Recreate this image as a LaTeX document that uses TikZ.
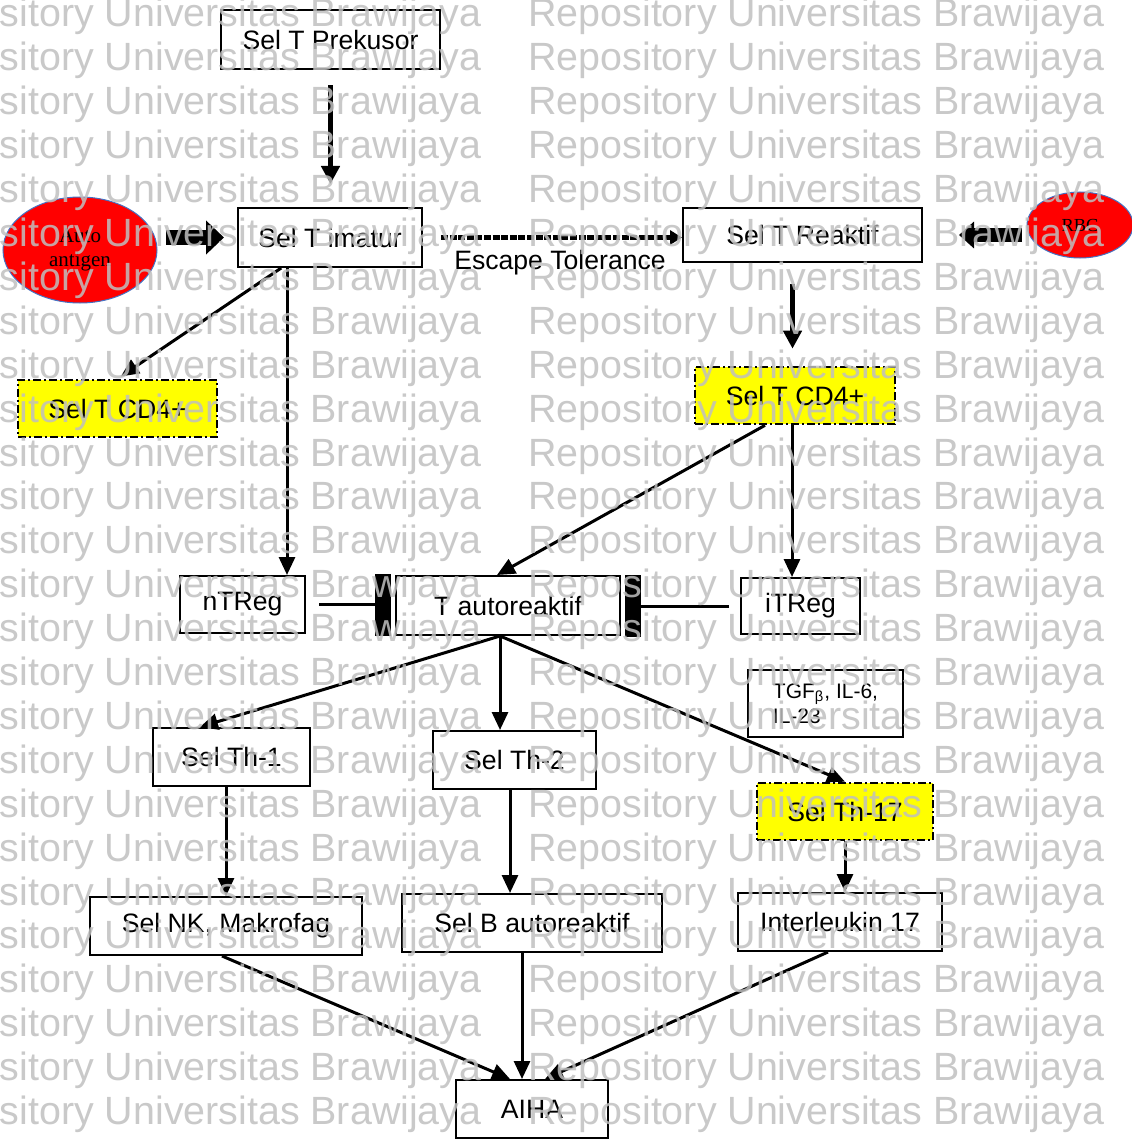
\documentclass[tikz,border=0pt]{standalone}
\usepackage{fontspec}
\setmainfont{Liberation Sans}
\newfontfamily\timesfont{Liberation Serif}
\usetikzlibrary{arrows.meta,calc,shapes.geometric}
\definecolor{CellClr}{rgb}{1,1,0}
\definecolor{AntigenClr}{rgb}{1,0,0}
\definecolor{RimClr}{rgb}{0.267,0.447,0.769}
\definecolor{MarkClr}{rgb}{0.75,0.75,0.75}

\begin{document}
\begin{tikzpicture}[x=0.5pt,y=-0.5pt,
  box/.style={draw,line width=1pt,inner sep=0pt,font=\fontsize{13.3}{15}\selectfont},
  cellbox/.style={box,fill=CellClr,line width=1.3pt,dash pattern=on 4pt off 1.5pt on 1pt off 1.5pt},
  antigen/.style={ellipse,draw=RimClr,fill=AntigenClr,line width=0.5pt,inner sep=0pt,align=center},
  arr/.style={line width=1.5pt,-{Triangle[length=9pt,width=8pt]}},
  thickarr/.style={line width=2.5pt,-{Triangle[length=9pt,width=9pt]}},
  fatarrow/.style={line width=7pt,-{Triangle[length=9pt,width=16.5pt]}},
  blocker/.style={line width=1.5pt,-{Rectangle[length=8pt,width=31pt]}},
  wmark/.style={text=MarkClr,text opacity=0.85,inner sep=0pt,font=\fontsize{19.7}{20}\selectfont}]
\useasboundingbox (0,0) rectangle (1131,1139);

\node[box,minimum width=109.5pt,minimum height=29.5pt] (prekusor) at (330.5,40) {Sel T Prekusor};
\node[box,minimum width=92pt,minimum height=29.5pt] (imatur) at (330,237.5) {Sel T imatur};
\node[box,minimum width=119.5pt,minimum height=27pt] (reaktif) at (802.5,235) {Sel T Reaktif};
\node[antigen,minimum width=77pt,minimum height=53pt,font=\timesfont\fontsize{10.5}{12}\selectfont] (autoag) at (80,250) {Auto\\antigen};
\node[antigen,minimum width=53pt,minimum height=33pt,font=\timesfont\fontsize{9.2}{10}\selectfont] (rbc) at (1080,225) {RBC};

\node[cellbox,minimum width=99.5pt,minimum height=28.5pt] (cdkiri) at (117.5,408.5) {Sel T CD4+};
\node[cellbox,minimum width=100pt,minimum height=28.5pt] (cdkanan) at (795,395.5) {Sel T CD4+};

\node[box,minimum width=62.5pt,minimum height=28.5pt] (ntreg) at (242.5,604.5) {nTReg};
\node[box,minimum width=112pt,minimum height=29.5pt] (tauto) at (508,605.5) {T autoreaktif};
\node[box,minimum width=59.5pt,minimum height=28pt] (itreg) at (800.5,606) {iTReg};

\node[box,minimum width=78.5pt,minimum height=29pt] (th1) at (231.5,757) {Sel Th-1};
\node[box,minimum width=81.5pt,minimum height=29pt] (th2) at (514.5,760) {Sel Th-2};
\node[box,minimum width=77.5pt,minimum height=33.5pt,align=left,font=\fontsize{10.5}{12.5}\selectfont] (tgf) at (825.5,703.5) {TGF\textsubscript{β}, IL-6,\\IL-23};
\node[cellbox,minimum width=88pt,minimum height=28.5pt] (th17) at (845,811.5) {Sel Th-17};

\node[box,minimum width=136pt,minimum height=29pt] (nk) at (226,926) {Sel NK, Makrofag};
\node[box,minimum width=130pt,minimum height=29pt] (selb) at (532,923) {Sel B autoreaktif};
\node[box,minimum width=102pt,minimum height=29pt] (il17) at (840,922) {Interleukin 17};
\node[box,minimum width=76pt,minimum height=29pt] (aiha) at (532,1109) {AIHA};

\draw[thickarr,shorten <=7.5pt,shorten >=11.5pt] (prekusor.south) -- (prekusor.south |- imatur.north);
\draw[fatarrow,shorten <=4pt,shorten >=6.5pt] (autoag.east |- imatur.west) -- (imatur.west);
\draw[fatarrow,-{Triangle[length=7.5pt,width=13pt]},shorten <=2.5pt,shorten >=18pt] (rbc.west |- reaktif.east) -- (reaktif.east);
\draw[line width=2.5pt,dash pattern=on 3.5pt off 0.8pt,-{Triangle[length=6pt,width=7pt]},shorten <=9pt] (imatur.east) -- (imatur.east -| reaktif.west);
\node[font=\fontsize{13.3}{15}\selectfont,anchor=base,inner sep=0pt] (escape) at (560,270) {Escape Tolerance};

\draw[arr,shorten >=2pt] (imatur.-148) -- (cdkiri.north);
\draw[arr] ([xshift=-21.5pt]imatur.south) -- ([xshift=-21.5pt]imatur.south |- ntreg.north);
\draw[thickarr,shorten <=10.5pt,shorten >=8.5pt] ([xshift=-5pt]reaktif.south) -- ([xshift=-5pt]reaktif.south |- cdkanan.north);
\draw[arr] ([xshift=-15pt]cdkanan.south) -- ([xshift=-5.5pt]tauto.north);
\draw[arr] ([xshift=-1.5pt]cdkanan.south) -- ([xshift=-1.5pt]cdkanan.south |- itreg.north);

\draw[blocker,shorten <=6.5pt,shorten >=2pt] (ntreg.east) -- (ntreg.east -| tauto.west);
\draw[blocker,shorten <=5.5pt,shorten >=2pt] (itreg.west) -- (itreg.west -| tauto.east);

\coordinate (split) at ([xshift=-4pt]tauto.south);
\draw[arr] (split) -- ([xshift=-15.75pt]th1.north);
\draw[arr] (split) -- (split |- th2.north);
\draw[arr] (split) -- (th17.north);

\draw[arr] (nk.north |- th1.south) -- (nk.north);
\draw[arr] ([xshift=-2.25pt]th2.south) -- ([xshift=-2.25pt]th2.south |- selb.north);
\draw[arr] (th17.south) -- (th17.south |- il17.north);

\draw[arr] ([xshift=-2pt]nk.south) -- ([xshift=-11pt]aiha.north);
\draw[arr] ([xshift=-5pt]selb.south) -- ([xshift=-5pt]aiha.north);
\draw[arr] ([xshift=-6pt]il17.south) -- ([xshift=6.5pt]aiha.north);

\foreach \r in {0,...,25}{
  \node[wmark,anchor=base east] (wl\r) at (482,27+43.9*\r) {Repository Universitas Brawijaya};
  \node[wmark,anchor=base west] (wr\r) at (528,27+43.9*\r) {Repository Universitas Brawijaya};
}
\end{tikzpicture}
\end{document}
